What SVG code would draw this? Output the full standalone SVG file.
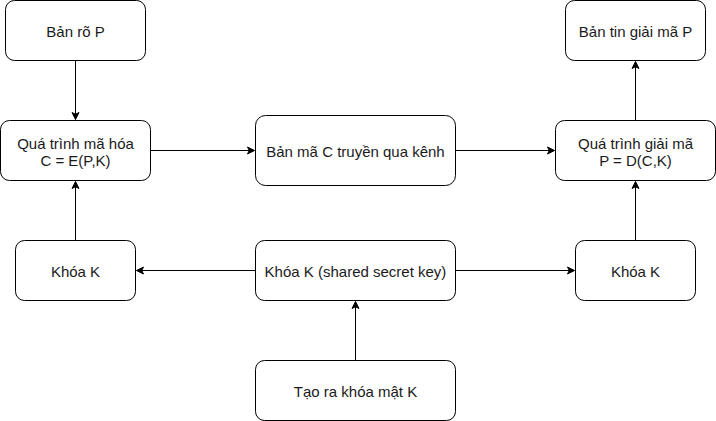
<svg xmlns="http://www.w3.org/2000/svg" width="716" height="421" viewBox="0 0 716 421">
<defs>
<style>
.n rect{fill:#fff;stroke:#000;stroke-width:1}
.n text{font-family:"Liberation Sans",Arial,Helvetica,sans-serif;font-size:15px;fill:#1a1a1a;text-anchor:middle}
.e line{stroke:#000;stroke-width:1;fill:none;marker-end:url(#ah)}
</style>
<marker id="ah" markerUnits="userSpaceOnUse" markerWidth="10" markerHeight="10" viewBox="-8 -5 10 10" refX="0" refY="0" orient="auto" overflow="visible">
<path d="M0,0 L-7,-3.5 L-5.25,0 L-7,3.5 Z" fill="#000" stroke="#000" stroke-width="1"/>
</marker>
</defs>
<rect width="716" height="421" fill="#fff"/>
<g id="connectors" class="e">
<line x1="75.5" y1="60.5" x2="75.5" y2="119.5"/>
<line x1="75.5" y1="240.5" x2="75.5" y2="181.5"/>
<line x1="150.5" y1="150.5" x2="254.5" y2="150.5"/>
<line x1="455.5" y1="150.5" x2="554.5" y2="150.5"/>
<line x1="635.5" y1="120.5" x2="635.5" y2="61.5"/>
<line x1="635.5" y1="240.5" x2="635.5" y2="181.5"/>
<line x1="255.5" y1="270.5" x2="136.5" y2="270.5"/>
<line x1="455.5" y1="270.5" x2="574.5" y2="270.5"/>
<line x1="355.5" y1="360.5" x2="355.5" y2="301.5"/>
</g>
<g id="ban-ro" class="n"><rect x="5.5" y="0.5" width="140" height="60" rx="9"/><text x="75.5" y="36.5">Bản rõ P</text></g>
<g id="ma-hoa" class="n"><rect x="0.5" y="120.5" width="150" height="60" rx="9"/><text x="75.5" y="148.5">Quá trình mã hóa</text><text x="75.5" y="165.5">C = E(P,K)</text></g>
<g id="ban-ma" class="n"><rect x="255.5" y="115.5" width="200" height="70" rx="10"/><text x="355.5" y="156.5">Bản mã C truyền qua kênh</text></g>
<g id="giai-ma" class="n"><rect x="555.5" y="120.5" width="160" height="60" rx="9"/><text x="635.5" y="148.5">Quá trình giải mã</text><text x="635.5" y="165.5">P = D(C,K)</text></g>
<g id="ban-tin" class="n"><rect x="565.5" y="0.5" width="140" height="60" rx="9"/><text x="635.5" y="36.5">Bản tin giải mã P</text></g>
<g id="khoa-trai" class="n"><rect x="15.5" y="240.5" width="120" height="60" rx="9"/><text x="75.5" y="276.5">Khóa K</text></g>
<g id="khoa-chung" class="n"><rect x="255.5" y="240.5" width="200" height="60" rx="9"/><text x="355.5" y="276.5">Khóa K (shared secret key)</text></g>
<g id="khoa-phai" class="n"><rect x="575.5" y="240.5" width="120" height="60" rx="9"/><text x="635.5" y="276.5">Khóa K</text></g>
<g id="tao-khoa" class="n"><rect x="255.5" y="360.5" width="200" height="60" rx="9"/><text x="355.5" y="396.5">Tạo ra khóa mật K</text></g>
</svg>
